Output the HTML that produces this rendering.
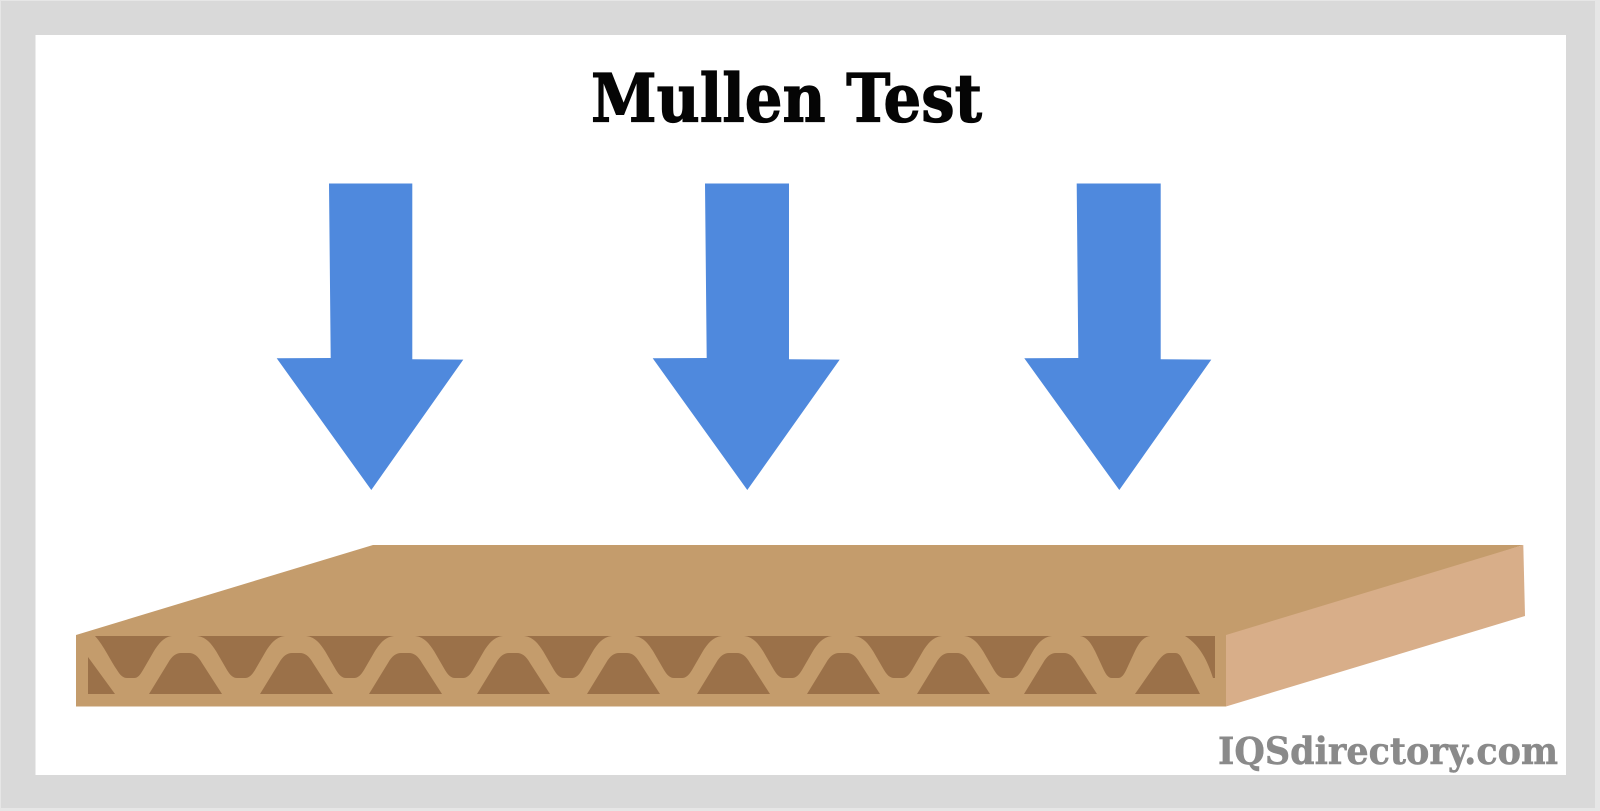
<!DOCTYPE html>
<html><head><meta charset="utf-8"><style>html,body{margin:0;padding:0;background:#fff}svg{display:block}</style></head>
<body>
<svg width="1600" height="811" viewBox="0 0 1600 811" xmlns="http://www.w3.org/2000/svg">
<defs>
<path id="u" d="M-44,636 C-34,637 -29,645 -25,651 L-14,670 C-11,675 -8,678 -4,678 L4,678 C8,678 11,675 14,670 L25,651 C29,645 34,637 44,636 Z"/>
<path id="l" d="M-36,694 L-17,663 C-13,656 -9,653 -4,653 L4,653 C9,653 13,656 17,663 L37,694 Z"/>
</defs>
<rect width="1600" height="811" fill="#e6e6e6"/>
<rect x="1" y="1" width="1594" height="807" fill="#d9d9d9"/>
<rect x="35.5" y="35" width="1530.5" height="740" fill="#fff"/>
<text x="591" y="121.5" textLength="391" lengthAdjust="spacingAndGlyphs" font-family="'DejaVu Serif','Liberation Serif',serif" font-weight="700" font-size="66" fill="#050505" stroke="#050505" stroke-width="1.2">Mullen Test</text>
<g fill="#4f89dd">
<polygon points="329,183.5 412.3,183.5 412.3,359.3 463.3,359.6 371.3,490 276.7,358.3 330.7,358"/>
<polygon points="705,183.5 789,183.5 789,359.3 839.7,359.6 747.3,490 652.7,358.3 706.7,358"/>
<polygon points="1076.7,183.5 1160.7,183.5 1160.7,359.3 1211.3,359.6 1119.3,490 1024.3,358.3 1078.3,358"/>
</g>
<polygon points="76,635 373,545 1523.3,545 1226,640" fill="#c49c6c"/>
<polygon points="1226,635 1523.3,545 1525,616 1226,706.5" fill="#d8ae89"/>
<rect x="76" y="635" width="1150" height="71.5" fill="#c49c6c"/>
<g fill="#9b7149">
<path d="M95,636 L172,636 C163,637 158,645 154,651 L143,670 C140,675 138,678 134,678 L127,678 C123,678 120,675 117,670 C110,660 104,646 95,636 Z"/>
<path d="M88,657 L115,694 L88,694 Z"/>
<use href="#u" transform="translate(241,0)"/>
<use href="#u" transform="translate(350,0)"/>
<use href="#u" transform="translate(459,0)"/>
<use href="#u" transform="translate(568,0)"/>
<use href="#u" transform="translate(678,0)"/>
<use href="#u" transform="translate(788,0)"/>
<use href="#u" transform="translate(898,0)"/>
<use href="#u" transform="translate(1008,0)"/>
<use href="#u" transform="translate(1115,0) scale(.8,1)"/>
<use href="#l" transform="translate(185,0)"/>
<use href="#l" transform="translate(296,0)"/>
<use href="#l" transform="translate(405,0)"/>
<use href="#l" transform="translate(513,0)"/>
<use href="#l" transform="translate(623,0)"/>
<use href="#l" transform="translate(733,0)"/>
<use href="#l" transform="translate(843,0)"/>
<use href="#l" transform="translate(953,0)"/>
<use href="#l" transform="translate(1060,0)"/>
<path d="M1135,694 L1158,661 C1162,656 1165,653 1169,653 L1175,653 C1179,653 1181,656 1183,661 L1200,694 Z"/>
<path d="M1185,636 L1215,636 L1215,678 L1213,678 C1208,662 1200,645 1185,636 Z"/>
</g>
<text x="1218" y="764" textLength="340" lengthAdjust="spacingAndGlyphs" font-family="'DejaVu Serif','Liberation Serif',serif" font-weight="700" font-size="37" fill="#8a8a8a" stroke="#8a8a8a" stroke-width=".5">IQSdirectory.com</text>
</svg>
</body></html>
